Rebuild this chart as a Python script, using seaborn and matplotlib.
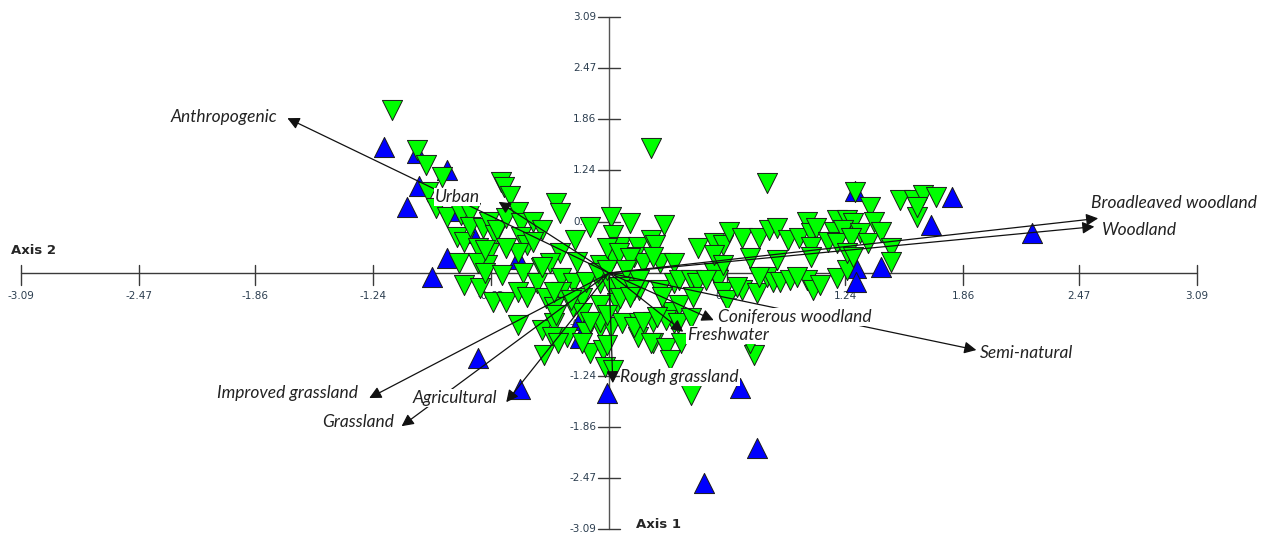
import pandas as pd
import seaborn as sns
import matplotlib.pyplot as plt

# site scores (green = down triangles, blue = up triangles)
green_sites = [
    (-1.14, 1.97), (-1.01, 1.49), (-0.96, 1.30), (-0.88, 1.16), (-0.57, 1.10), (-0.55, 1.04),
    (-0.52, 0.93), (-0.95, 0.98), (-0.91, 0.79), (-0.85, 0.68), (-0.78, 0.70), (-0.73, 0.72),
    (-0.80, 0.43), (-0.76, 0.37), (-0.69, 0.30), (-0.73, 0.56), (-0.66, 0.54), (-0.63, 0.62),
    (-0.60, 0.46), (-0.59, 0.52), (-0.54, 0.66), (-0.48, 0.74), (-0.46, 0.60), (-0.40, 0.62),
    (-0.35, 0.52), (-0.46, 0.43), (-0.43, 0.34), (-0.40, 0.37), (-0.48, 0.24), (-0.54, 0.30),
    (-0.63, 0.24), (-0.64, 0.10), (-0.79, 0.12), (-0.69, 0.12), (-0.65, 0.28), (-0.28, 0.85),
    (-0.26, 0.72), (-0.18, 0.40), (-0.26, 0.24), (-0.17, 0.13), (-0.10, 0.56), (0.01, 0.68),
    (0.11, 0.60), (0.29, 0.58), (0.02, 0.46), (-0.05, 0.10), (0.02, 0.18), (0.06, 0.31),
    (0.15, 0.31), (0.22, 0.40), (0.24, 0.34), (0.13, 0.19), (0.18, 0.12), (0.27, 0.12),
    (0.34, 0.12), (-0.36, 0.06), (-0.31, 0.12), (-0.01, 0.30), (0.05, 0.24), (0.11, 0.18),
    (0.22, 1.51), (0.83, 1.09),
    (-0.76, -0.14), (-0.68, -0.18), (-0.61, -0.35), (-0.54, -0.35), (-0.65, 0.00), (-0.56, -0.02),
    (-0.45, 0.00), (-0.48, -0.23), (-0.43, -0.29), (-0.38, -0.12), (-0.33, -0.30), (-0.25, -0.06),
    (-0.19, -0.12), (-0.25, -0.23), (-0.29, -0.41), (-0.19, -0.41), (-0.14, -0.30), (-0.05, -0.12),
    (0.01, -0.17), (0.04, -0.36), (0.08, -0.12), (0.13, -0.08), (0.16, -0.21), (-0.05, -0.39),
    (-0.14, -0.48), (-0.48, -0.63), (-0.35, -0.69), (-0.29, -0.60), (-0.22, -0.77), (-0.12, -0.71),
    (-0.05, -0.66), (0.01, -0.65), (0.07, -0.60), (0.16, -0.60), (0.23, -0.59), (0.32, -0.48),
    (0.34, -0.60), (0.15, -0.77), (0.23, -0.85), (0.27, -0.21), (0.34, -0.12), (-0.35, 0.07),
    (-0.12, -0.11), (-0.06, 0.00), (-0.29, -0.23), (-0.20, -0.33), (-0.28, -0.51), (-0.30, -0.77),
    (-0.27, -0.85), (-0.34, -0.99), (-0.05, -0.59), (-0.10, -0.59), (-0.10, -0.97), (-0.14, -0.85),
    (-0.03, -0.93), (-0.02, -1.14), (0.02, -1.17),
    (-0.01, 0.04), (0.09, 0.04), (0.16, -0.08), (0.06, -0.17), (0.13, -0.21), (0.37, -0.08),
    (0.43, -0.08), (0.46, -0.12), (0.55, 0.00), (0.57, -0.08), (0.60, -0.23), (0.70, -0.21),
    (0.78, -0.24), (0.83, -0.05), (0.86, -0.11), (0.90, -0.11), (0.95, -0.08), (1.04, -0.08),
    (1.07, -0.21), (0.06, -0.30), (0.11, -0.29), (-0.01, -0.51), (0.13, -0.65), (0.18, -0.59),
    (0.33, -0.47), (0.37, -0.39), (0.30, -0.57), (0.36, -0.60), (0.43, -0.54), (0.22, -0.85),
    (0.30, -0.91), (0.38, -0.85), (0.32, -1.05), (-0.01, -0.87), (0.76, -0.99), (0.43, -1.47),
    (0.74, -0.85), (0.44, -0.29), (0.62, -0.33), (0.28, -0.29), (0.25, -0.53), (1.11, -0.14),
    (1.20, -0.06), (1.25, 0.04), (0.99, -0.05), (0.79, -0.05), (0.67, -0.17), (0.51, -0.08),
    (0.47, 0.30), (0.55, 0.36), (0.60, 0.34), (0.63, 0.50), (0.70, 0.42), (0.79, 0.42),
    (0.84, 0.52), (0.88, 0.54), (0.55, 0.22), (0.74, 0.18), (0.88, 0.16), (0.60, 0.10),
    (0.94, 0.40), (1.00, 0.42), (1.04, 0.62), (1.06, 0.48), (1.09, 0.54), (1.06, 0.31),
    (1.06, 0.19), (1.20, 0.64), (1.25, 0.64), (1.28, 0.60), (1.18, 0.50), (1.23, 0.52),
    (1.32, 0.48), (1.15, 0.37), (1.20, 0.36), (1.27, 0.42), (1.25, 0.24), (1.28, 0.19),
    (1.36, 0.36), (1.29, 0.98), (1.37, 0.80), (1.39, 0.62), (1.43, 0.50), (1.48, 0.30),
    (1.48, 0.13), (1.53, 0.88), (1.60, 0.88), (1.65, 0.94), (1.72, 0.92), (1.62, 0.68),
    (1.62, 0.80), (0.23, 0.19),
]
blue_sites = [
    (-1.18, 1.52), (-1.01, 1.45), (-0.85, 1.25), (-1.00, 1.05), (-1.06, 0.80), (-0.80, 0.75),
    (-0.72, 0.48), (-0.85, 0.18), (-0.48, 0.17), (-0.93, -0.05), (-0.15, -0.57), (-0.15, -0.79),
    (-0.69, -1.03), (-0.47, -1.40), (-0.01, -1.45), (0.69, -1.39), (0.78, -2.11), (0.50, -2.54),
    (1.29, 0.99), (1.80, 0.92), (1.69, 0.58), (1.30, 0.06), (1.43, 0.07), (1.30, -0.11),
    (2.22, 0.48),
]

# environmental vectors: name, tip x, tip y
vec_names = ['Anthropogenic', 'Urban', 'Broadleaved woodland', 'Woodland', 'Coniferous woodland',
             'Freshwater', 'Semi-natural', 'Rough grassland', 'Agricultural', 'Improved grassland',
             'Grassland']
vec_x = [-1.69, -0.58, 2.57, 2.55, 0.55, 0.39, 1.93, 0.02, -0.54, -1.26, -1.09]
vec_y = [1.87, 0.86, 0.66, 0.56, -0.57, -0.71, -0.93, -1.33, -1.56, -1.51, -1.85]
# label anchor positions
lab_x = [-1.745, -0.68, 2.53, 2.59, 0.57, 0.41, 1.95, 0.06, -0.59, -1.32, -1.13]
lab_y = [1.88, 0.92, 0.85, 0.52, -0.53, -0.75, -0.97, -1.26, -1.51, -1.45, -1.80]
lab_ha = ['right', 'right', 'left', 'left', 'left', 'left', 'left', 'left', 'right', 'right', 'right']

ticks = [-3.09, -2.47, -1.86, -1.24, -0.62, 0.62, 1.24, 1.86, 2.47, 3.09]

green = pd.DataFrame(green_sites, columns=['x', 'y'])
blue = pd.DataFrame(blue_sites, columns=['x', 'y'])

sns.set_style('white')
fig = plt.figure(figsize=(12.78, 5.38), dpi=100)
ax = fig.add_axes([0, 0, 1, 1])
ax.set_xlim(-3.20, 3.515)
ax.set_ylim(-3.20, 3.297)
ax.axis('off')

# crossing axes
axc = '#3a3a3a'
ax.plot([-3.09, 3.09], [0, 0], color=axc, lw=1, zorder=1)
ax.plot([0, 0], [-3.09, 3.09], color='#555555', lw=1, zorder=1)
for t in ticks:
    ax.plot([t, t], [-0.14, 0.10], color=axc, lw=1, zorder=1)
    ax.plot([-0.058, 0.058], [t, t], color=axc, lw=1, zorder=1)
    ax.annotate(f'{t:.2f}', xy=(t, 0), xytext=(0, -13), textcoords='offset points',
                ha='center', va='top', fontsize=7.5, color='#2c3e50', zorder=1)
    ax.annotate(f'{t:.2f}', xy=(0, t), xytext=(-9, 0), textcoords='offset points',
                ha='right', va='center', fontsize=7.5, color='#2c3e50', zorder=1)

ax.text(-3.14, 0.27, 'Axis 2', fontsize=9.5, fontweight='bold', ha='left', va='center')
ax.text(0.14, -3.04, 'Axis 1', fontsize=9.5, fontweight='bold', ha='left', va='center')

# sites
sns.scatterplot(data=blue, x='x', y='y', marker='^', color='#0000FF', edgecolor='#1a1a1a',
                linewidth=0.7, s=210, ax=ax, zorder=3)
sns.scatterplot(data=green, x='x', y='y', marker='v', color='#00FF00', edgecolor='#1a1a1a',
                linewidth=0.7, s=210, ax=ax, zorder=4)

# vectors
for name, vx, vy, lx, ly, ha in zip(vec_names, vec_x, vec_y, lab_x, lab_y, lab_ha):
    ax.annotate('', xy=(vx, vy), xytext=(0, 0),
                arrowprops=dict(arrowstyle='-|>', color='#111111', lw=0.9,
                                mutation_scale=18, shrinkA=0, shrinkB=0), zorder=5)
    ax.text(lx, ly, name, fontsize=12.5, fontstyle='italic', family='Lato', color='#222222',
            ha=ha, va='center', zorder=6,
            bbox=dict(facecolor='white', edgecolor='none', pad=0.6))

plt.savefig('out.png', dpi=100)
